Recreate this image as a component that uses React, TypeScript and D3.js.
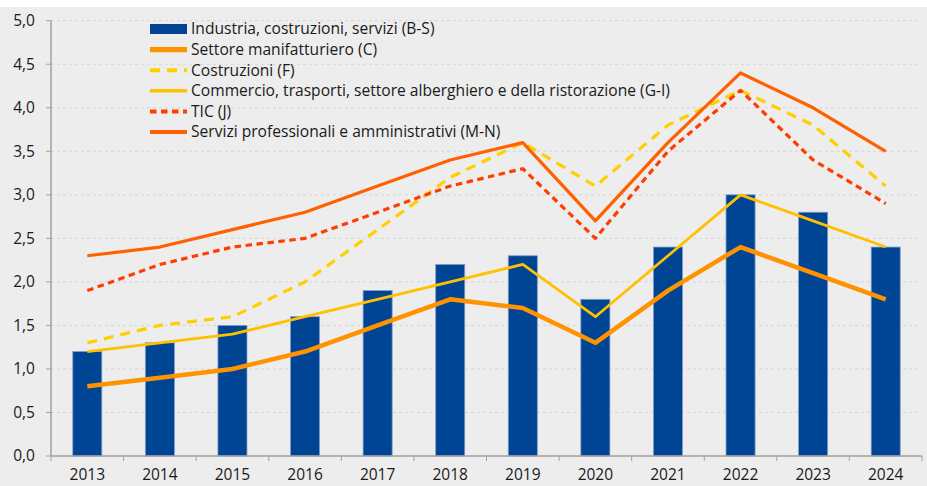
import React from 'react';
import { scaleBand, scaleLinear, line, range } from 'd3';

const years = ['2013', '2014', '2015', '2016', '2017', '2018', '2019', '2020', '2021', '2022', '2023', '2024'];
const yTicks = [0, 0.5, 1, 1.5, 2, 2.5, 3, 3.5, 4, 4.5, 5];

// Industria, costruzioni, servizi (B-S) - bars
const industria = [1.2, 1.3, 1.5, 1.6, 1.9, 2.2, 2.3, 1.8, 2.4, 3.0, 2.8, 2.4];
const manifatturiero = [0.8, 0.9, 1.0, 1.2, 1.5, 1.8, 1.7, 1.3, 1.9, 2.4, 2.1, 1.8];
const costruzioni = [1.3, 1.5, 1.6, 2.0, 2.6, 3.2, 3.6, 3.1, 3.8, 4.2, 3.8, 3.1];
const commercio = [1.2, 1.3, 1.4, 1.6, 1.8, 2.0, 2.2, 1.6, 2.3, 3.0, 2.7, 2.4];
const tic = [1.9, 2.2, 2.4, 2.5, 2.8, 3.1, 3.3, 2.5, 3.5, 4.2, 3.4, 2.9];
const servizi = [2.3, 2.4, 2.6, 2.8, 3.1, 3.4, 3.6, 2.7, 3.6, 4.4, 4.0, 3.5];

const barLabel = 'Industria, costruzioni, servizi (B-S)';
const lineSeries = [
  { name: 'Settore manifatturiero (C)', values: manifatturiero, color: '#FF9200', width: 4.5, dash: '' },
  { name: 'Costruzioni (F)', values: costruzioni, color: '#FFCF00', width: 3.2, dash: '10,7' },
  { name: 'Commercio, trasporti, settore alberghiero e della ristorazione (G-I)', values: commercio, color: '#FFC000', width: 2.8, dash: '' },
  { name: 'TIC (J)', values: tic, color: '#FF3D00', width: 3.2, dash: '6.5,4.5' },
  { name: 'Servizi professionali e amministrativi (M-N)', values: servizi, color: '#FF6000', width: 3.2, dash: '' },
];

const W = 927;
const H = 486;
const left = 51, right = 922, top = 20.7, bottom = 456;
const font = "'Open Sans', sans-serif";

export default function App() {
  const x = scaleBand().domain(years).range([left, right]).paddingInner(0.6).paddingOuter(0.3);
  const xTick = scaleBand().domain(years).range([left, right]);
  const y = scaleLinear().domain([0, 5]).range([bottom, top]);
  const cx = (i: number) => (xTick(years[i]) as number) + xTick.bandwidth() / 2;

  const lineF = line<number>().x((_, i) => cx(i)).y(d => y(d));

  const legendX = 150, legendY = 29, legendStep = 20.6;

  return (
    <div style={{ position: 'absolute', left: 0, top: 0 }}>
      <svg width={W} height={H} style={{ display: 'block', fontFamily: font }}>
        <rect x={0} y={0} width={W} height={H} fill="#fff" />
        <rect x={0} y={7} width={W} height={H - 7} fill="#EDEDED" />

        {yTicks.map(t => (
          <g key={t}>
            {t > 0 && (
              <line x1={left} x2={right} y1={y(t)} y2={y(t)} stroke="#D6D6D6" strokeDasharray="3,3" />
            )}
            <line x1={left - 5} x2={left} y1={y(t)} y2={y(t)} stroke="#A0A0A0" />
            <text x={35} y={y(t)} dy="0.35em" textAnchor="end" fontSize={15.5} fill="#1a1a1a">
              {t.toFixed(1).replace('.', ',')}
            </text>
          </g>
        ))}

        {industria.map((v, i) => (
          <rect key={years[i]} x={x(years[i])} y={y(v)} width={x.bandwidth()} height={bottom - y(v)}
            fill="#004494" stroke="#7E9CCB" strokeWidth={0.8} />
        ))}

        <line x1={left} x2={left} y1={top} y2={bottom} stroke="#A0A0A0" strokeWidth={1.5} />
        <line x1={left} x2={right} y1={bottom} y2={bottom} stroke="#A0A0A0" strokeWidth={1.5} />
        {range(years.length + 1).map(i => (
          <line key={i} x1={left + i * xTick.step()} x2={left + i * xTick.step()} y1={bottom} y2={bottom + 5} stroke="#A0A0A0" />
        ))}
        {years.map((yr, i) => (
          <text key={yr} x={cx(i)} y={480} textAnchor="middle" fontSize={15.5} fill="#1a1a1a">{yr}</text>
        ))}

        {lineSeries.map(s => (
          <path key={s.name} d={lineF(s.values) || ''} fill="none" stroke={s.color} strokeWidth={s.width}
            strokeDasharray={s.dash || undefined} strokeLinejoin="round" />
        ))}

        <g>
          <rect x={legendX} y={legendY - 5} width={37} height={10} fill="#004494" />
          <text x={191} y={legendY} dy="0.35em" fontSize={15.6} fill="#1a1a1a">{barLabel}</text>
          {lineSeries.map((s, i) => {
            const ly = legendY + (i + 1) * legendStep;
            return (
              <g key={s.name}>
                <line x1={legendX} x2={legendX + 37} y1={ly} y2={ly} stroke={s.color} strokeWidth={s.width + 0.8}
                  strokeDasharray={s.dash || undefined} />
                <text x={191} y={ly} dy="0.35em" fontSize={15.6} fill="#1a1a1a">{s.name}</text>
              </g>
            );
          })}
        </g>
      </svg>
    </div>
  );
}
